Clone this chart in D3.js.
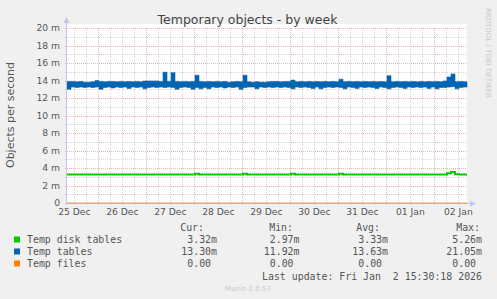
<!DOCTYPE html>
<html lang="en">
<head>
<meta charset="UTF-8">
<title>Temporary objects - by week</title>
<style>
    body { margin: 0; padding: 0; background: #f0f0f0; }
    svg { display: block; }
    .tick-label { font-family: "DejaVu Sans", sans-serif; font-size: 9.2px; fill: #555; }
    .legend { font-family: "DejaVu Sans Mono", monospace; font-size: 9.9px; fill: #555; white-space: pre; }
</style>
</head>
<body>
<div id="chart"></div>
<script src="https://d3js.org/d3.v7.min.js"></script>
<script>
    // values in milli objects/sec, one sample every 2 hours
    const tempTablesHi = [
        13.9, 13.9, 13.85, 13.9, 13.8, 13.8, 13.85, 14.0, 13.9, 13.85,
        13.9, 13.9, 13.85, 13.9, 13.85, 13.9, 13.85, 13.9, 13.85, 13.95,
        13.95, 13.95, 13.95, 13.9, 14.95, 13.9, 14.9, 13.9, 13.85, 13.9,
        13.85, 13.9, 14.6, 13.9, 13.85, 13.9, 13.85, 13.9, 13.85, 13.9,
        13.8, 13.85, 13.9, 13.85, 14.6, 13.85, 13.8, 13.85, 13.8, 13.8,
        13.85, 13.9, 13.9, 13.85, 13.9, 13.9, 14.05, 13.85, 13.9, 13.85,
        13.9, 13.85, 13.9, 13.85, 13.9, 13.85, 13.9, 13.85, 14.15, 13.85,
        13.9, 13.85, 13.9, 13.85, 13.9, 13.85, 13.9, 13.85, 13.9, 13.85,
        14.55, 13.85, 13.9, 13.85, 13.9, 13.85, 13.9, 13.85, 13.9, 13.85,
        13.9, 13.85, 13.9, 13.85, 13.95, 14.4, 14.75, 13.85, 13.9, 13.85
    ];
    const tempTablesLo = [
        13.0, 13.25, 13.2, 13.25, 13.2, 13.25, 13.2, 13.25, 13.0, 13.2,
        13.25, 13.15, 13.25, 13.2, 13.25, 13.1, 13.25, 13.2, 13.25, 13.05,
        13.2, 13.25, 13.2, 13.25, 13.2, 13.25, 13.2, 13.0, 13.2, 13.25,
        13.2, 13.0, 13.2, 13.05, 13.2, 13.05, 13.25, 13.2, 13.25, 13.15,
        13.25, 13.2, 13.25, 13.0, 13.2, 13.25, 13.25, 13.05, 13.25, 13.2,
        13.25, 13.2, 13.25, 13.2, 13.25, 13.2, 13.05, 13.25, 13.2, 13.25,
        13.2, 13.1, 13.25, 13.05, 13.2, 13.25, 13.2, 13.25, 13.2, 13.05,
        13.25, 13.2, 13.1, 13.25, 13.2, 13.25, 13.2, 13.1, 13.25, 13.2,
        13.05, 13.2, 13.25, 13.2, 13.1, 13.25, 13.2, 13.25, 13.2, 13.25,
        13.1, 13.25, 13.05, 13.2, 13.2, 13.25, 13.3, 13.05, 13.2, 13.25
    ];
    const tempDiskTables = [
        3.25, 3.25, 3.25, 3.25, 3.25, 3.25, 3.25, 3.25, 3.25, 3.25,
        3.25, 3.25, 3.25, 3.25, 3.25, 3.25, 3.25, 3.25, 3.25, 3.25,
        3.25, 3.25, 3.25, 3.25, 3.25, 3.25, 3.25, 3.25, 3.25, 3.25,
        3.25, 3.25, 3.35, 3.25, 3.25, 3.25, 3.25, 3.25, 3.25, 3.25,
        3.25, 3.25, 3.25, 3.25, 3.35, 3.25, 3.25, 3.25, 3.25, 3.25,
        3.25, 3.25, 3.25, 3.25, 3.25, 3.25, 3.35, 3.25, 3.25, 3.25,
        3.25, 3.25, 3.25, 3.25, 3.25, 3.25, 3.25, 3.25, 3.35, 3.25,
        3.25, 3.25, 3.25, 3.25, 3.25, 3.25, 3.25, 3.25, 3.25, 3.25,
        3.25, 3.25, 3.25, 3.25, 3.25, 3.25, 3.25, 3.25, 3.25, 3.25,
        3.25, 3.25, 3.25, 3.25, 3.25, 3.4, 3.55, 3.3, 3.25, 3.25
    ];
    const tempFiles = [
        0, 0, 0, 0, 0, 0, 0, 0, 0, 0, 0, 0, 0, 0, 0, 0, 0, 0, 0, 0,
        0, 0, 0, 0, 0, 0, 0, 0, 0, 0, 0, 0, 0, 0, 0, 0, 0, 0, 0, 0,
        0, 0, 0, 0, 0, 0, 0, 0, 0, 0, 0, 0, 0, 0, 0, 0, 0, 0, 0, 0,
        0, 0, 0, 0, 0, 0, 0, 0, 0, 0, 0, 0, 0, 0, 0, 0, 0, 0, 0, 0,
        0, 0, 0, 0, 0, 0, 0, 0, 0, 0, 0, 0, 0, 0, 0, 0, 0, 0, 0, 0
    ];

    const yTicks = [0, 2, 4, 6, 8, 10, 12, 14, 16, 18, 20];
    const legendNames = ["Temp disk tables", "Temp tables", "Temp files"];
    const legendColors = ["#00cc00", "#0066b3", "#ff8000"];
    const legendCur = ["3.32m", "13.30m", "0.00 "];
    const legendMin = ["2.97m", "11.92m", "0.00 "];
    const legendAvg = ["3.33m", "13.63m", "0.00 "];
    const legendMax = ["5.26m", "21.05m", "0.00 "];

    const startTime = new Date(Date.UTC(2025, 11, 25, 8, 20));
    const stepSec = 7200;
    const endTime = new Date(startTime.getTime() + 720000 * 1000);

    const W = 497, H = 299;
    const plot = { left: 67, right: 467, top: 28, bottom: 203 };

    const svg = d3.select("#chart").append("svg")
        .attr("width", W)
        .attr("height", H)
        .style("background", "#f0f0f0");

    const x = d3.scaleUtc().domain([startTime, endTime]).range([plot.left, plot.right]);
    const y = d3.scaleLinear().domain([0, 20]).range([plot.bottom, plot.top]);

    const timeAt = i => new Date(startTime.getTime() + i * stepSec * 1000);

    // plot background
    svg.append("rect")
        .attr("x", plot.left - 1).attr("y", plot.top - 4)
        .attr("width", plot.right - plot.left + 1).attr("height", plot.bottom - plot.top + 4)
        .attr("fill", "#fff");

    // grid
    const minorCol = "#d6d6d6", majorCol = "#f0b4b4";
    const grid = svg.append("g").attr("shape-rendering", "crispEdges");
    const minorY = d3.range(1, 20, 2);
    grid.selectAll(".ymin").data(minorY).enter().append("line")
        .attr("x1", plot.left - 2).attr("x2", plot.right)
        .attr("y1", d => Math.round(y(d)) + 0.5).attr("y2", d => Math.round(y(d)) + 0.5)
        .attr("stroke", minorCol).attr("stroke-dasharray", "1,1");
    const minorX = d3.utcHour.every(6).range(startTime, endTime).filter(d => d.getUTCHours() !== 0);
    grid.selectAll(".xmin").data(minorX).enter().append("line")
        .attr("x1", d => Math.round(x(d)) + 0.5).attr("x2", d => Math.round(x(d)) + 0.5)
        .attr("y1", plot.top).attr("y2", plot.bottom + 2)
        .attr("stroke", minorCol).attr("stroke-dasharray", "1,1");
    grid.selectAll(".ymaj").data(yTicks.slice(1)).enter().append("line")
        .attr("x1", plot.left - 2).attr("x2", plot.right)
        .attr("y1", d => Math.round(y(d)) + 0.5).attr("y2", d => Math.round(y(d)) + 0.5)
        .attr("stroke", majorCol).attr("stroke-dasharray", "1,1");
    const days = d3.utcDay.range(startTime, endTime);
    grid.selectAll(".xmaj").data(days).enter().append("line")
        .attr("x1", d => Math.round(x(d)) + 0.5).attr("x2", d => Math.round(x(d)) + 0.5)
        .attr("y1", plot.top).attr("y2", plot.bottom + 2)
        .attr("stroke", majorCol).attr("stroke-dasharray", "1,1");

    // y labels
    svg.selectAll(".ylab").data(yTicks).enter().append("text")
        .attr("class", "tick-label")
        .attr("x", 60).attr("y", d => y(d) + 3.3)
        .attr("text-anchor", "end")
        .text(d => d === 0 ? "0" : d + " m");

    // x labels at noon
    const fmt = d3.utcFormat("%d %b");
    const noons = d3.utcDay.range(d3.utcDay.floor(startTime), endTime)
        .map(d => d3.utcHour.offset(d, 12))
        .filter(d => d >= startTime && d <= endTime);
    svg.selectAll(".xlab").data(noons).enter().append("text")
        .attr("class", "tick-label")
        .attr("x", d => x(d)).attr("y", 215)
        .attr("text-anchor", "middle")
        .text(d => fmt(d));

    // series
    const idx = d3.range(tempTablesHi.length + 1);
    const clampIdx = i => Math.min(i, tempTablesHi.length - 1);

    const band = d3.area()
        .curve(d3.curveStepAfter)
        .x(i => x(timeAt(i)))
        .y0(i => y(tempTablesLo[clampIdx(i)]))
        .y1(i => y(tempTablesHi[clampIdx(i)]));
    svg.append("path").datum(idx)
        .attr("d", band)
        .attr("fill", "#0066b3")
        .attr("stroke", "#0066b3")
        .attr("stroke-width", 0.6);

    const lineOf = arr => d3.line()
        .curve(d3.curveStepAfter)
        .x(i => x(timeAt(i)))
        .y(i => y(arr[clampIdx(i)]));

    svg.append("path").datum(idx)
        .attr("d", lineOf(tempDiskTables))
        .attr("fill", "none")
        .attr("stroke", "#00cc00")
        .attr("stroke-width", 2);

    // axes
    const axisColor = "#c4c4f0";
    svg.append("line")
        .attr("x1", plot.left - 0.5).attr("x2", plot.left - 0.5)
        .attr("y1", plot.bottom + 2).attr("y2", plot.top - 6)
        .attr("stroke", axisColor);
    svg.append("path")
        .attr("d", `M${plot.left - 3.5},${plot.top - 5} L${plot.left - 0.5},${plot.top - 11} L${plot.left + 2.5},${plot.top - 5} Z`)
        .attr("fill", axisColor);
    svg.append("line")
        .attr("x1", plot.left - 2).attr("x2", plot.right + 3)
        .attr("y1", plot.bottom + 0.5).attr("y2", plot.bottom + 0.5)
        .attr("stroke", axisColor);
    svg.append("path")
        .attr("d", `M${plot.right + 3},${plot.bottom - 2.5} L${plot.right + 9},${plot.bottom + 0.5} L${plot.right + 3},${plot.bottom + 3.5} Z`)
        .attr("fill", axisColor);

    svg.append("path").datum(idx)
        .attr("d", lineOf(tempFiles))
        .attr("fill", "none")
        .attr("stroke", "#ff8000")
        .attr("stroke-opacity", 0.5)
        .attr("stroke-width", 1.5);

    // titles
    svg.append("text")
        .attr("x", 247.5).attr("y", 24)
        .attr("text-anchor", "middle")
        .style("font-family", "DejaVu Sans, sans-serif")
        .style("font-size", "12.5px")
        .style("fill", "#444")
        .text("Temporary objects - by week");

    svg.append("text")
        .attr("transform", "translate(14,115) rotate(-90)")
        .attr("text-anchor", "middle")
        .style("font-family", "DejaVu Sans, sans-serif")
        .style("font-size", "11px")
        .style("fill", "#555")
        .text("Objects per second");

    svg.append("text")
        .attr("transform", "translate(486,53) rotate(90)")
        .attr("text-anchor", "middle")
        .style("font-family", "DejaVu Sans, sans-serif")
        .style("font-size", "7px")
        .style("fill", "#c8c8c8")
        .text("RRDTOOL / TOBI OETIKER");

    // legend
    const lg = svg.append("g");
    const rowY = [243, 255, 267];
    const headers = [["Cur:", 204], ["Min:", 293], ["Avg:", 380], ["Max:", 480]];
    headers.forEach(h => {
        lg.append("text").attr("class", "legend")
            .attr("x", h[1]).attr("y", 231).attr("text-anchor", "end").text(h[0]);
    });
    legendNames.forEach((name, i) => {
        lg.append("rect")
            .attr("x", 14).attr("y", rowY[i] - 6.5)
            .attr("width", 6).attr("height", 6)
            .attr("fill", legendColors[i]);
        lg.append("text").attr("class", "legend")
            .attr("x", 27).attr("y", rowY[i]).text(name);
        [[legendCur, 217], [legendMin, 299.5], [legendAvg, 388], [legendMax, 482]].forEach(col => {
            lg.append("text").attr("class", "legend")
                .attr("x", col[1]).attr("y", rowY[i])
                .attr("text-anchor", "end")
                .text(col[0][i]);
        });
    });
    lg.append("text").attr("class", "legend")
        .attr("x", 482).attr("y", 280).attr("text-anchor", "end")
        .text("Last update: Fri Jan  2 15:30:18 2026");

    svg.append("text")
        .attr("x", 248).attr("y", 291)
        .attr("text-anchor", "middle")
        .style("font-family", "DejaVu Sans, sans-serif")
        .style("font-size", "7px")
        .style("fill", "#c8c8c8")
        .text("Munin 2.0.57");
</script>
</body>
</html>
